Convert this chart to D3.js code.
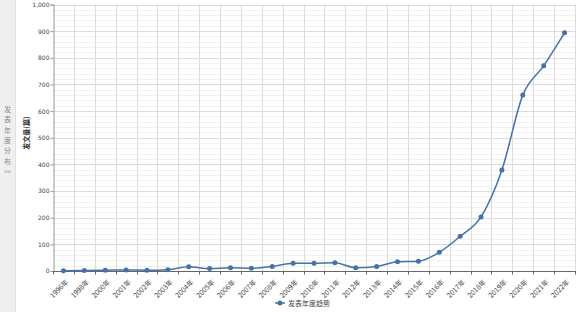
<!DOCTYPE html>
<html lang="zh">
<head>
  <meta charset="UTF-8">
  <title>发表年度趋势</title>
  <script src="https://cdn.jsdelivr.net/npm/d3@7"></script>
  <style>
    html, body { margin: 0; padding: 0; background: #fff; }
    body { width: 582px; height: 312px; overflow: hidden; font-family: "Noto Sans CJK SC", "DejaVu Sans", sans-serif; }
    #side {
      position: absolute; left: 0; top: 0; width: 15px; height: 312px;
      background: #efefef; border-right: 1px solid #e2e2e2;
    }
    #chart { position: absolute; left: 0; top: 0; }
  </style>
</head>
<body>
<div id="side"></div>
<svg id="chart" width="582" height="312"></svg>
<script>
  // data
  var years = ["1996年","1998年","2000年","2001年","2002年","2003年","2004年","2005年","2006年","2007年",
               "2008年","2009年","2010年","2011年","2012年","2013年","2014年","2015年","2016年","2017年",
               "2018年","2019年","2020年","2021年","2022年"];
  var counts = [1, 2, 3, 4, 3, 5, 16, 9, 12, 10,
                17, 29, 29, 31, 12, 17, 35, 37, 70, 130,
                203, 379, 660, 770, 894];
  var yTicks = d3.range(0, 1001, 100);
  var seriesName = "发表年度趋势";
  var sideText = ["发", "表", "年", "度", "分", "布", ">>"];

  // plot box (don't call these top/left, window.top is read-only)
  var pLeft = 53, pRight = 575, pTop = 4.5, pBottom = 271;
  var color = "#4572A7";

  var svg = d3.select("#chart");

  var x = d3.scaleBand().domain(years).range([pLeft, pRight]);
  var y = d3.scaleLinear().domain([0, 1000]).range([pBottom, pTop]);

  // side panel label
  svg.append("g").selectAll("text").data(sideText).enter().append("text")
    .attr("x", 7.5)
    .attr("y", function(d, i) { return 112 + i * 10.3; })
    .attr("text-anchor", "middle")
    .style("font-size", function(d) { return d === ">>" ? "6px" : "7px"; })
    .style("fill", "#8a8a8a")
    .text(function(d) { return d; });

  // minor horizontal grid every 20
  svg.append("g").selectAll("line").data(d3.range(0, 1001, 20).filter(function(v) { return v % 100 !== 0; }))
    .enter().append("line")
    .attr("x1", pLeft).attr("x2", pRight)
    .attr("y1", function(d) { return Math.round(y(d)) + 0.5; })
    .attr("y2", function(d) { return Math.round(y(d)) + 0.5; })
    .attr("stroke", "#f2f2f2");

  // major horizontal grid
  svg.append("g").selectAll("line").data(yTicks.slice(1))
    .enter().append("line")
    .attr("x1", pLeft).attr("x2", pRight)
    .attr("y1", function(d) { return Math.round(y(d)) + 0.5; })
    .attr("y2", function(d) { return Math.round(y(d)) + 0.5; })
    .attr("stroke", "#dcdcdc");

  // vertical grid at category boundaries
  var bounds = years.map(function(d) { return x(d); }).concat([pRight]);
  svg.append("g").selectAll("line").data(bounds.slice(1))
    .enter().append("line")
    .attr("x1", function(d) { return Math.round(d) + 0.5; })
    .attr("x2", function(d) { return Math.round(d) + 0.5; })
    .attr("y1", pTop).attr("y2", pBottom)
    .attr("stroke", "#dcdcdc");

  // y axis
  var yAxis = svg.append("g")
    .attr("transform", "translate(" + (pLeft + 0.5) + ",0)")
    .call(d3.axisLeft(y).tickValues(yTicks).tickSize(3).tickPadding(1).tickFormat(d3.format(",")));
  yAxis.select(".domain").attr("stroke", "#999");
  yAxis.selectAll(".tick line").attr("stroke", "#999");
  yAxis.selectAll("text").style("font-size", "6px").style("fill", "#444")
    .style("font-family", "'DejaVu Sans', sans-serif");

  // y title
  svg.append("text")
    .attr("transform", "translate(29,133) rotate(-90)")
    .attr("text-anchor", "middle")
    .style("font-size", "7px").style("font-weight", "bold").style("fill", "#333")
    .text("发文量(篇)");

  // x axis
  var xAxis = svg.append("g")
    .attr("transform", "translate(0," + (pBottom + 0.5) + ")");
  xAxis.append("line").attr("x1", pLeft).attr("x2", pRight + 1)
    .attr("stroke", "#666");
  xAxis.selectAll(".xt").data(bounds).enter().append("line")
    .attr("class", "xt")
    .attr("x1", function(d) { return Math.round(d) + 0.5; })
    .attr("x2", function(d) { return Math.round(d) + 0.5; })
    .attr("y1", 0).attr("y2", 3)
    .attr("stroke", "#666");
  xAxis.selectAll("text").data(years).enter().append("text")
    .attr("transform", function(d) {
      return "translate(" + (x(d) + x.bandwidth() / 2 + 5.5) + ",11) rotate(-45)";
    })
    .attr("text-anchor", "end")
    .style("font-size", "7px").style("fill", "#444")
    .text(function(d) { return d; });

  // series line
  var line = d3.line()
    .x(function(d, i) { return x(years[i]) + x.bandwidth() / 2; })
    .y(function(d) { return y(d); })
    .curve(d3.curveMonotoneX);
  svg.append("path").datum(counts)
    .attr("d", line)
    .attr("fill", "none")
    .attr("stroke", color)
    .attr("stroke-width", 1.5);

  svg.append("g").selectAll("circle").data(counts).enter().append("circle")
    .attr("cx", function(d, i) { return x(years[i]) + x.bandwidth() / 2; })
    .attr("cy", function(d) { return y(d); })
    .attr("r", 2.5)
    .attr("fill", color);

  // legend
  var lg = svg.append("g").attr("transform", "translate(279,303)");
  lg.append("line").attr("x1", -4).attr("x2", 6).attr("y1", 0).attr("y2", 0)
    .attr("stroke", color).attr("stroke-width", 1.5);
  lg.append("circle").attr("cx", 1).attr("cy", 0).attr("r", 2.5).attr("fill", color);
  lg.append("text").attr("x", 9).attr("y", 2.5)
    .style("font-size", "7px").style("fill", "#444")
    .text(seriesName);
</script>
</body>
</html>
